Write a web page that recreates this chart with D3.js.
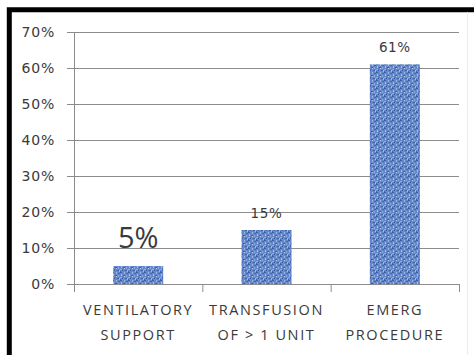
<!DOCTYPE html>
<html lang="en">
<head>
  <meta charset="UTF-8">
  <title>Complications</title>
  <style>
    body { margin: 0; background: #fff; }
    text { font-family: 'Open Sans', sans-serif; fill: #3a3a3a; }
  </style>
</head>
<body>
  <svg id="svg" width="474" height="355"></svg>

  <script src="https://d3js.org/d3.v7.min.js"></script>
  <script>
    // data
    const categories = ['VENTILATORY SUPPORT', 'TRANSFUSION OF > 1 UNIT', 'EMERG PROCEDURE']
    const lineOne = ['VENTILATORY', 'TRANSFUSION', 'EMERG']
    const lineTwo = ['SUPPORT', 'OF > 1 UNIT', 'PROCEDURE']
    const values = [5, 15, 61]
    const labelSizes = [29, 13.5, 13.5]
    const yTicks = [0, 10, 20, 30, 40, 50, 60, 70]

    const margin = { top: 32, left: 74, right: 15, bottom: 71 }
    const width = 474
    const height = 355
    const plotRight = width - margin.right
    const plotBottom = height - margin.bottom

    const svg = d3.select('#svg')

    // blue woven texture for the bars
    const defs = svg.append('defs')
    const pat = defs.append('pattern')
      .attr('id', 'weave')
      .attr('patternUnits', 'userSpaceOnUse')
      .attr('width', 8)
      .attr('height', 8)
    pat.append('rect').attr('width', 8).attr('height', 8).attr('fill', '#6689cb')
    const specks = [
      [0, 0, 2, 1, '#3b5fa6'], [4, 0, 1, 2, '#9ab3e0'], [6, 1, 2, 1, '#3f63ab'],
      [1, 2, 1, 2, '#a7bde6'], [3, 3, 2, 1, '#3a5da3'], [6, 3, 1, 2, '#8aa8dc'],
      [0, 5, 2, 1, '#8fabdc'], [2, 5, 1, 2, '#4568ae'], [5, 6, 2, 1, '#3c60a7'],
      [7, 6, 1, 2, '#a3bbe4'], [4, 4, 1, 1, '#b4c8ec'], [0, 7, 1, 1, '#4366ad']
    ]
    pat.selectAll('rect.s')
      .data(specks)
      .enter()
      .append('rect')
      .attr('class', 's')
      .attr('x', d => d[0]).attr('y', d => d[1])
      .attr('width', d => d[2]).attr('height', d => d[3])
      .attr('fill', d => d[4])

    // scales
    const xscale = d3.scaleBand()
      .domain(categories)
      .range([margin.left, plotRight])
      .paddingInner(0.61)
      .paddingOuter(0.305)

    const xedge = d3.scaleLinear()
      .domain([0, categories.length])
      .range([margin.left, plotRight])

    const yscale = d3.scaleLinear()
      .domain([0, 70])
      .range([plotBottom, margin.top])

    // gridlines
    svg.append('g')
      .attr('transform', `translate(${margin.left}, 0)`)
      .call(d3.axisLeft(yscale).tickValues(yTicks).tickSize(-(plotRight - margin.left)).tickFormat(''))
      .call(g => g.select('.domain').remove())
      .selectAll('line')
      .attr('stroke', '#8c8c8c')

    // y axis with labels
    svg.append('g')
      .attr('transform', `translate(${margin.left}, 0)`)
      .call(d3.axisLeft(yscale).tickValues(yTicks).tickSize(7).tickSizeOuter(0).tickPadding(12).tickFormat(d => d + '%'))
      .call(g => g.select('.domain').attr('stroke', '#8c8c8c'))
      .call(g => g.selectAll('line').attr('stroke', '#8c8c8c'))
      .call(g => g.selectAll('text')
        .style('font-size', '14px')
        .style('letter-spacing', '0.8px')
        .style('font-family', 'DejaVu Sans')
        .attr('fill', '#3a3a3a'))

    // bars
    svg.selectAll('rect.bar')
      .data(values)
      .enter()
      .append('rect')
      .attr('class', 'bar')
      .attr('x', (d, i) => xscale(categories[i]))
      .attr('y', d => yscale(d))
      .attr('width', xscale.bandwidth())
      .attr('height', d => plotBottom - yscale(d))
      .attr('fill', 'url(#weave)')

    // value labels
    svg.selectAll('text.val')
      .data(values)
      .enter()
      .append('text')
      .attr('class', 'val')
      .attr('x', (d, i) => xscale(categories[i]) + xscale.bandwidth() / 2)
      .attr('y', (d, i) => yscale(d) - (labelSizes[i] > 20 ? 18 : 12))
      .attr('text-anchor', 'middle')
      .style('font-family', (d, i) => labelSizes[i] > 20 ? 'Open Sans' : 'DejaVu Sans')
      .style('font-size', (d, i) => labelSizes[i] + 'px')
      .style('letter-spacing', (d, i) => labelSizes[i] > 20 ? '0px' : '0.6px')
      .text(d => d + '%')

    // x axis line and boundary ticks
    svg.append('g')
      .attr('transform', `translate(0, ${plotBottom})`)
      .call(d3.axisBottom(xedge).tickValues([0, 1, 2, 3]).tickSize(8).tickSizeOuter(0).tickFormat(''))
      .call(g => g.select('.domain').attr('stroke', '#8c8c8c'))
      .call(g => g.selectAll('line').attr('stroke', '#8c8c8c'))

    // category labels on two lines
    const cat = svg.append('g')
    cat.selectAll('text')
      .data(categories)
      .enter()
      .append('text')
      .attr('x', d => xscale(d) + xscale.bandwidth() / 2)
      .attr('y', plotBottom + 31)
      .attr('text-anchor', 'middle')
      .style('font-size', '14.5px')
      .style('letter-spacing', '1.6px')
      .each(function (d, i) {
        const t = d3.select(this)
        t.append('tspan').attr('x', xscale(d) + xscale.bandwidth() / 2).text(lineOne[i])
        t.append('tspan').attr('x', xscale(d) + xscale.bandwidth() / 2).attr('dy', 25).text(lineTwo[i])
      })

    // frame around the picture
    svg.append('path')
      .attr('d', `M9.3,${height} V9.8 H${width}`)
      .attr('fill', 'none')
      .attr('stroke', '#000')
      .attr('stroke-width', 5)
    svg.append('line')
      .attr('x1', 467.5).attr('x2', 467.5)
      .attr('y1', 12).attr('y2', height)
      .attr('stroke', '#ececec')
  </script>
</body>
</html>
